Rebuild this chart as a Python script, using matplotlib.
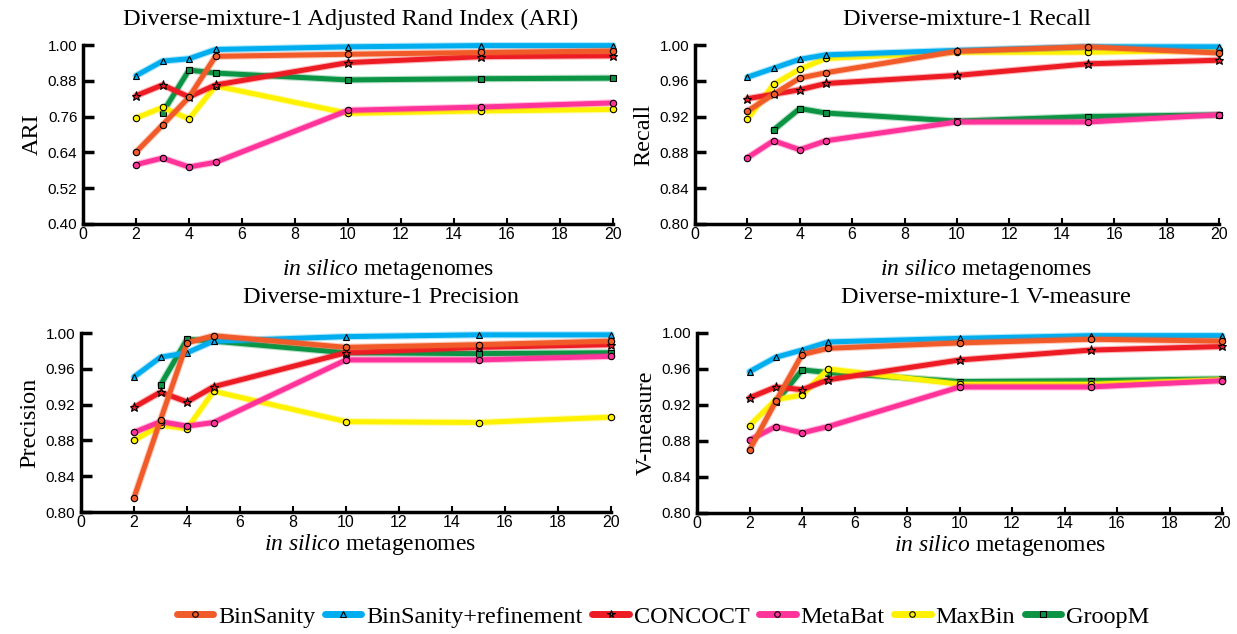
import numpy as np
import matplotlib.pyplot as plt
import matplotlib.patheffects as pe
from matplotlib.lines import Line2D

plt.rcParams['mathtext.fontset'] = 'custom'
plt.rcParams['mathtext.it'] = 'Liberation Serif:italic'
plt.rcParams['mathtext.rm'] = 'Liberation Serif'

### Data
x = [2, 3, 4, 5, 10, 15, 20]
x_groopm = [3, 4, 5, 10, 15, 20]

methods = ['BinSanity', 'BinSanity+refinement', 'CONCOCT', 'MetaBat', 'MaxBin', 'GroopM']
colors = {'BinSanity': '#F15A29', 'BinSanity+refinement': '#00AEEF', 'CONCOCT': '#ED1C24',
          'MetaBat': '#FF3399', 'MaxBin': '#FFF200', 'GroopM': '#0B9444'}
markers = {'BinSanity': 'o', 'BinSanity+refinement': '^', 'CONCOCT': '*',
           'MetaBat': 'o', 'MaxBin': 'o', 'GroopM': 's'}

# ARI
ari_binsanity = [0.641, 0.732, 0.825, 0.962, 0.969, 0.975, 0.980]
ari_refine = [0.897, 0.946, 0.954, 0.985, 0.994, 0.998, 0.998]
ari_concoct = [0.830, 0.866, 0.826, 0.866, 0.941, 0.961, 0.964]
ari_metabat = [0.599, 0.621, 0.591, 0.607, 0.781, 0.792, 0.806]
ari_maxbin = [0.755, 0.791, 0.752, 0.863, 0.771, 0.779, 0.784]
ari_groopm = [0.773, 0.916, 0.906, 0.883, 0.887, 0.889]

# Recall
rec_binsanity = [0.926, 0.945, 0.963, 0.969, 0.993, 0.998, 0.991]
rec_refine = [0.964, 0.974, 0.984, 0.989, 0.994, 0.998, 0.998]
rec_concoct = [0.940, 0.945, 0.950, 0.957, 0.966, 0.979, 0.983]
rec_metabat = [0.874, 0.893, 0.883, 0.893, 0.914, 0.914, 0.922]
rec_maxbin = [0.917, 0.956, 0.973, 0.985, 0.992, 0.992, 0.994]
rec_groopm = [0.905, 0.929, 0.924, 0.915, 0.920, 0.922]

# Precision
pre_binsanity = [0.816, 0.903, 0.989, 0.997, 0.984, 0.987, 0.991]
pre_refine = [0.951, 0.973, 0.978, 0.991, 0.996, 0.998, 0.998]
pre_concoct = [0.917, 0.934, 0.923, 0.940, 0.978, 0.984, 0.987]
pre_metabat = [0.889, 0.901, 0.896, 0.900, 0.970, 0.970, 0.974]
pre_maxbin = [0.880, 0.897, 0.893, 0.935, 0.901, 0.900, 0.906]
pre_groopm = [0.942, 0.993, 0.991, 0.978, 0.977, 0.978]

# V-measure
vm_binsanity = [0.870, 0.924, 0.976, 0.983, 0.989, 0.993, 0.991]
vm_refine = [0.957, 0.973, 0.981, 0.990, 0.994, 0.997, 0.997]
vm_concoct = [0.928, 0.940, 0.937, 0.948, 0.970, 0.981, 0.985]
vm_metabat = [0.881, 0.896, 0.889, 0.896, 0.940, 0.940, 0.947]
vm_maxbin = [0.897, 0.926, 0.931, 0.960, 0.943, 0.943, 0.948]
vm_groopm = [0.923, 0.959, 0.956, 0.946, 0.947, 0.949]

panels = [
    ('Diverse-mixture-1 Adjusted Rand Index (ARI)', 'ARI', (0.40, 1.00), np.arange(0.40, 1.01, 0.12),
     [ari_binsanity, ari_refine, ari_concoct, ari_metabat, ari_maxbin, ari_groopm]),
    ('Diverse-mixture-1 Recall', 'Recall', (0.80, 1.00), np.arange(0.80, 1.001, 0.04),
     [rec_binsanity, rec_refine, rec_concoct, rec_metabat, rec_maxbin, rec_groopm]),
    ('Diverse-mixture-1 Precision', 'Precision', (0.80, 1.00), np.arange(0.80, 1.001, 0.04),
     [pre_binsanity, pre_refine, pre_concoct, pre_metabat, pre_maxbin, pre_groopm]),
    ('Diverse-mixture-1 V-measure', 'V-measure', (0.80, 1.00), np.arange(0.80, 1.001, 0.04),
     [vm_binsanity, vm_refine, vm_concoct, vm_metabat, vm_maxbin, vm_groopm]),
]

# axes rectangles in figure fractions
rects = [[0.0671, 0.6467, 0.4285, 0.2823],
         [0.5618, 0.6467, 0.4236, 0.2823],
         [0.0655, 0.1924, 0.4285, 0.2823],
         [0.5635, 0.1909, 0.4244, 0.2839]]
# (x, y) in axes fraction for title and xlabel baselines
title_pos = [(0.505, 1.112), (0.52, 1.112), (0.565, 1.168), (0.55, 1.168)]
xlabel_pos = [(0.575, -0.285), (0.555, -0.285), (0.545, -0.21), (0.578, -0.21)]

serif = 'Liberation Serif'
sans = 'Liberation Sans'

draw_order = ['GroopM', 'MaxBin', 'MetaBat', 'CONCOCT', 'BinSanity+refinement', 'BinSanity']

fig = plt.figure(figsize=(12.37, 6.34), dpi=100)

for (title, ylab, ylim, yticks, series), rect, tp, xp in zip(panels, rects, title_pos, xlabel_pos):
    ax = fig.add_axes(rect)
    data = dict(zip(methods, series))
    for i, m in enumerate(draw_order):
        xs = x_groopm if m == 'GroopM' else x
        ms = 6.5 if markers[m] == '*' else 4.6
        ax.plot(xs, data[m], color=colors[m], lw=3.6, clip_on=False, zorder=3 + i,
                solid_capstyle='round',
                path_effects=[pe.Stroke(linewidth=5.2, foreground=colors[m], alpha=0.3), pe.Normal()])
        ax.plot(xs, data[m], ls='none', marker=markers[m], ms=ms, mfc=colors[m], mec='black',
                mew=0.8, clip_on=False, zorder=3 + i)
    ax.set_xlim(0, 20)
    ax.set_ylim(*ylim)
    ax.set_xticks(np.arange(0, 21, 2))
    ax.set_yticks(yticks)
    ax.set_yticklabels([f'{t:.2f}' for t in yticks], family=sans, fontsize=11)
    ax.set_xticklabels([str(t) for t in range(0, 21, 2)], family=sans, fontsize=11.5)
    ax.tick_params(axis='y', direction='in', length=8, width=2.5, pad=4)
    ax.tick_params(axis='x', direction='in', length=4, width=1.5, pad=2)
    for s in ['top', 'right']:
        ax.spines[s].set_visible(False)
    for s in ['left', 'bottom']:
        ax.spines[s].set_linewidth(2.5)
    ax.text(tp[0], tp[1], title, transform=ax.transAxes, ha='center', va='baseline',
            family=serif, fontsize=17.5)
    ax.text(xp[0], xp[1], r'$\it{in\ silico}$ metagenomes', transform=ax.transAxes,
            ha='center', va='baseline', family=serif, fontsize=17)
    ax.set_ylabel(ylab, family=serif, fontsize=17.5, labelpad=4)

handles = [Line2D([0], [0], color=colors[m], lw=5, solid_capstyle='round', marker=markers[m],
                  ms=4 if markers[m] != '*' else 5.5, mfc=colors[m], mec='black', mew=0.8)
           for m in methods]
fig.legend(handles, methods, loc='center', bbox_to_anchor=(0.536, 0.027), ncol=6, frameon=False,
           prop={'family': serif, 'size': 17.5}, handlelength=1.5, handletextpad=0.2,
           columnspacing=0.4, borderpad=0.1)

fig.savefig('out.png', dpi=100)
